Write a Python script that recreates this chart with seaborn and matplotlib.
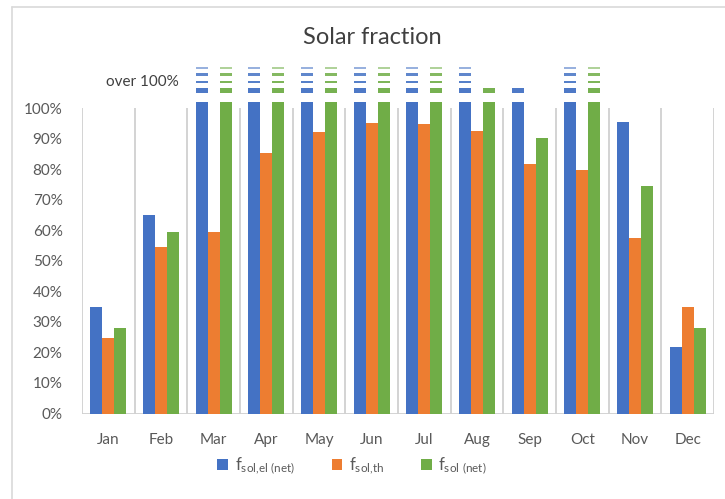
import numpy as np
import pandas as pd
import matplotlib
matplotlib.use("Agg")
import matplotlib.pyplot as plt
import seaborn as sns
from matplotlib.patches import Patch
from matplotlib.lines import Line2D

# ---- data ----
months = ["Jan", "Feb", "Mar", "Apr", "May", "Jun", "Jul", "Aug", "Sep", "Oct", "Nov", "Dec"]
series = ["el_net", "th", "net"]
# values in %, bars above 100% are drawn capped (102) with "over 100%" dash markers
f_sol_el_net = [35, 65, 102, 102, 102, 102, 102, 102, 102, 102, 95.5, 21.7]
f_sol_th = [24.7, 54.5, 59.5, 85.2, 92.2, 95.0, 94.8, 92.5, 81.7, 79.8, 57.3, 34.8]
f_sol_net = [28, 59.3, 102, 102, 102, 102, 102, 102, 90.3, 102, 74.4, 27.9]
# number of "over 100%" dashes per month
over_el_net = [0, 0, 4, 4, 4, 4, 4, 4, 1, 4, 0, 0]
over_th = [0] * 12
over_net = [0, 0, 4, 4, 4, 4, 4, 1, 0, 4, 0, 0]
yticks = list(range(0, 101, 10))
ytick_labels = [f"{t}%" for t in yticks]
legend_labels = [r"f$_{sol{,}el\ (net)}$", r"f$_{sol{,}th}$", r"f$_{sol\ (net)}$"]

colors = ["#4472C4", "#ED7D31", "#70AD47"]

df = pd.DataFrame({
    "month": months * 3,
    "series": [s for s in series for _ in months],
    "value": f_sol_el_net + f_sol_th + f_sol_net,
})

sns.set_theme(style="white")
plt.rcParams["font.family"] = ["Lato", "DejaVu Sans"]
plt.rcParams["mathtext.default"] = "regular"

W, H = 725, 499
fig = plt.figure(figsize=(W / 100, H / 100), dpi=100)
base_y = 413.5
px_per_pct = 3.055
top_y = 55
ax = fig.add_axes([82 / W, 1 - base_y / H, (714 - 82) / W, (base_y - top_y) / H])

sns.barplot(data=df, x="month", y="value", hue="series", order=months,
            hue_order=series, palette=colors, width=0.68, gap=0,
            saturation=1, legend=False, ax=ax, linewidth=0)

ax.set_xlim(-0.5, 11.5)
ax.set_ylim(0, (base_y - top_y) / px_per_pct)

# dash markers above 100%
dash_levels = [(105.0, 1.5, 0.95), (108.05, 0.9, 0.9), (110.55, 0.85, 0.85), (112.75, 0.6, 0.55)]
overs = [over_el_net, over_th, over_net]
bar_conts = list(ax.containers)[:3]
for ci, cont in enumerate(bar_conts):
    for bi, bar in enumerate(cont):
        n = overs[ci][bi]
        for k in range(n):
            b, h, a = dash_levels[k]
            ax.bar(bar.get_x() + bar.get_width() / 2, h, bottom=b,
                   width=bar.get_width(), color=colors[ci], alpha=a, linewidth=0)

ax.text(1.33, 108.5, "over 100%", ha="right", va="center", fontsize=11, color="#404040")

# category separators and baseline
ax.vlines(np.arange(-0.5, 12.0, 1.0), 0, 100, color="#d0d0d0", lw=1.3, zorder=0)
ax.axhline(0, color="#d0d0d0", lw=1.3, zorder=0)

for s in ax.spines.values():
    s.set_visible(False)
ax.set_yticks(yticks)
ax.set_yticklabels(ytick_labels)
ax.tick_params(axis="both", length=0, labelsize=11, labelcolor="#595959")
ax.tick_params(axis="y", pad=14)
ax.tick_params(axis="x", pad=14)
ax.set_xlabel("")
ax.set_ylabel("")

fig.text(372 / W, 1 - 37 / H, "Solar fraction", ha="center", va="center",
         fontsize=17, color="#404040")

handles = [Patch(facecolor=c, edgecolor="none") for c in colors]
fig.legend(handles, legend_labels, loc="center", bbox_to_anchor=(352 / W, 1 - 466 / H),
           ncol=3, frameon=False, fontsize=12, handlelength=0.65, handleheight=0.65,
           handletextpad=0.4, columnspacing=2.2, labelcolor="#595959")

# chart border (left and top)
fig.add_artist(Line2D([12 / W, 12 / W], [0, 1 - 7 / H], color="#d9d9d9", lw=1.2))
fig.add_artist(Line2D([12 / W, 1], [1 - 7 / H, 1 - 7 / H], color="#d9d9d9", lw=1.2))

fig.savefig("out.png", dpi=100, facecolor="white")
